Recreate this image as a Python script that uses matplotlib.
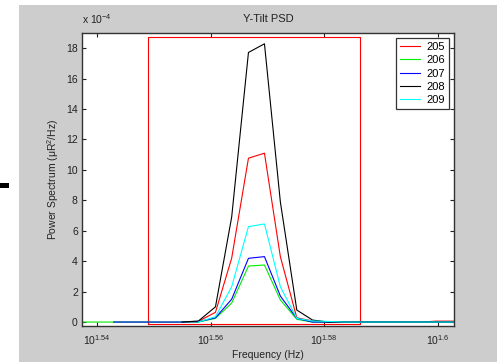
import numpy as np
import matplotlib
matplotlib.use("Agg")
import matplotlib.pyplot as plt
from matplotlib.patches import Rectangle
from matplotlib.ticker import NullLocator

plt.rcParams['font.family'] = ['Liberation Sans', 'DejaVu Sans']
plt.rcParams['mathtext.fontset'] = 'custom'
plt.rcParams['mathtext.rm'] = 'Liberation Sans'
plt.rcParams['mathtext.it'] = 'Liberation Sans:italic'
plt.rcParams['mathtext.bf'] = 'Liberation Sans:bold'

# ---- data (PSD values in units of 1e-4 uR^2/Hz) ----
freq = [34.42, 34.67, 34.91, 35.16, 35.40, 35.64, 35.89, 36.13, 36.38, 36.62,
        36.87, 37.11, 37.35, 37.60, 37.84, 38.09, 38.33, 38.57, 38.82, 39.06,
        39.31, 39.55, 39.79, 40.04, 40.28]
nan = np.nan
psd_205 = [nan, nan, nan, nan, nan, nan, nan, 0.05, 0.64, 4.2, 10.77, 11.1, 4.3,
           0.28, 0.07, 0.0, 0.0, 0.0, 0.0, 0.0, 0.0, 0.0, 0.06, 0.06, 0.06]
psd_206 = [0.0, 0.0, 0.0, 0.0, 0.0, 0.0, 0.0, 0.0, 0.24, 1.25, 3.68, 3.75, 1.45,
           0.18, 0.0, 0.0, 0.0, 0.0, 0.0, 0.0, 0.0, 0.0, 0.0, 0.0, 0.0]
psd_207 = [nan, nan, 0.0, 0.0, 0.0, 0.0, 0.0, 0.02, 0.28, 1.5, 4.19, 4.3, 1.71,
           0.24, 0.0, 0.0, 0.0, 0.0, 0.0, 0.0, 0.0, 0.0, 0.0, 0.0, 0.0]
psd_208 = [nan, nan, nan, nan, nan, nan, 0.0, 0.07, 1.0, 6.9, 17.72, 18.29, 7.9,
           0.79, 0.13, 0.0, 0.0, 0.0, 0.0, 0.0, 0.0, 0.0, 0.0, 0.0, 0.0]
psd_209 = [nan, nan, nan, nan, nan, nan, nan, 0.0, 0.35, 2.32, 6.27, 6.45, 2.32,
           0.24, 0.07, 0.04, 0.0, 0.0, 0.0, 0.0, 0.0, 0.0, 0.0, 0.0, 0.0]
series_labels = ['205', '206', '207', '208', '209']
series_colors = ['#ff0000', '#00ee00', '#0000ff', '#000000', '#00ffff']

# analysis window box (frequency bounds, value bounds)
window_freq = [35.40, 38.57]
window_val = [-0.15, 18.72]

xtick_exps = ['1.54', '1.56', '1.58', '1.6']
ytick_vals = [0, 2, 4, 6, 8, 10, 12, 14, 16, 18]

# ---- figure ----
W, H = 497, 362
fig = plt.figure(figsize=(W / 100, H / 100), dpi=100, facecolor='white')
gray = '#cdcdcd'
fig.patches.append(Rectangle((19 / W, 0), 1 - 19 / W, (H - 5) / H,
                             transform=fig.transFigure, facecolor=gray,
                             edgecolor='none', zorder=-10))
fig.patches.append(Rectangle((0, (H - 188) / H), 9 / W, 5.5 / H,
                             transform=fig.transFigure, facecolor='black',
                             edgecolor='none', zorder=-5))

ax = fig.add_axes([82 / W, (H - 326) / H, 372 / W, 293 / H])
ax.set_facecolor('white')

# window rectangle
wx = [window_freq[0], window_freq[0], window_freq[1], window_freq[1], window_freq[0]]
wy = [window_val[0], window_val[1], window_val[1], window_val[0], window_val[0]]
ax.plot(wx, wy, color='#ff0000', lw=0.8)

for vals, lab, col in zip([psd_205, psd_206, psd_207, psd_208, psd_209],
                          series_labels, series_colors):
    ax.plot(freq, vals, color=col, lw=0.8, label=lab)

ax.set_xscale('log')
ax.set_xlim(10 ** 1.53736, 10 ** 1.60287)
ax.set_ylim(-0.26, 19.0)
ax.set_xticks([10 ** float(e) for e in xtick_exps])
ax.set_xticklabels([r'10$^{%s}$' % e for e in xtick_exps])
ax.xaxis.set_minor_locator(NullLocator())
ax.set_yticks(ytick_vals)
ax.set_yticklabels([str(v) for v in ytick_vals])

ax.tick_params(which='both', direction='in', top=True, right=True,
               length=3, width=0.8, labelsize=7.5, colors='#222222', pad=3)
ax.tick_params(axis='x', pad=5)
for s in ax.spines.values():
    s.set_color('#333333')
    s.set_linewidth(1.0)

ax.set_xlabel('Frequency (Hz)', fontsize=7.5, labelpad=2, color='#222222')
ax.set_ylabel('Power Spectrum (\u03bcR$^2$/Hz)', fontsize=7.5, labelpad=4,
              color='#222222')
ax.set_title('Y-Tilt PSD', fontsize=8, pad=8, color='#222222')
ax.text(0.0, 1.025, r'x 10$^{-4}$', transform=ax.transAxes, fontsize=7.5,
        ha='left', va='bottom', color='#222222')

leg = ax.legend(loc='upper right', fontsize=8, frameon=True, fancybox=False,
                edgecolor='#333333', framealpha=1, borderaxespad=0.45,
                handlelength=1.8, handletextpad=0.6, labelspacing=0.3,
                borderpad=0.35)
leg.get_frame().set_linewidth(0.9)

fig.savefig('out.png', dpi=100, facecolor=fig.get_facecolor())
